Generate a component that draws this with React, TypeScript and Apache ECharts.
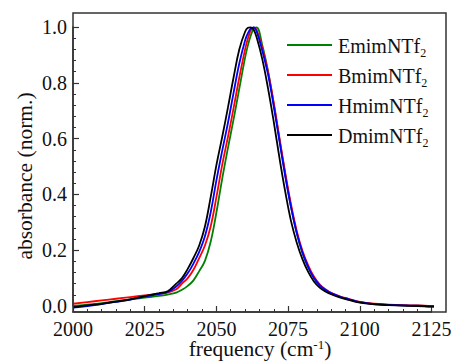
import React, { useEffect, useRef } from "react";
import * as echarts from "echarts";

const freq = [2000, 2005, 2010, 2015, 2020, 2025, 2030, 2033, 2036, 2038, 2040, 2042, 2044, 2046, 2048, 2050, 2052, 2054, 2056, 2058, 2060, 2061, 2062, 2063, 2064, 2066, 2068, 2070, 2072, 2074, 2076, 2078, 2080, 2082, 2084, 2086, 2088, 2090, 2093, 2096, 2100, 2105, 2110, 2115, 2120, 2125, 2130];

const emim = [0.0, 0.005, 0.01, 0.017, 0.024, 0.03, 0.036, 0.041, 0.048, 0.058, 0.072, 0.092, 0.125, 0.162, 0.23, 0.335, 0.455, 0.565, 0.67, 0.78, 0.89, 0.935, 0.97, 0.993, 0.999, 0.935, 0.842, 0.724, 0.597, 0.472, 0.357, 0.262, 0.19, 0.138, 0.1, 0.073, 0.056, 0.044, 0.033, 0.024, 0.014, 0.007, 0.004, 0.002, 0.001, -0.001, -0.002];

const bmim = [0.008, 0.014, 0.02, 0.026, 0.032, 0.038, 0.044, 0.048, 0.06, 0.08, 0.1, 0.13, 0.172, 0.217, 0.285, 0.39, 0.505, 0.605, 0.71, 0.82, 0.92, 0.96, 0.988, 0.999, 0.99, 0.925, 0.84, 0.728, 0.602, 0.478, 0.365, 0.27, 0.198, 0.146, 0.106, 0.078, 0.06, 0.047, 0.035, 0.026, 0.015, 0.008, 0.005, 0.003, 0.002, 0.0, -0.001];

const hmim = [-0.006, 0.0, 0.007, 0.015, 0.023, 0.034, 0.043, 0.05, 0.07, 0.09, 0.117, 0.152, 0.194, 0.25, 0.335, 0.45, 0.555, 0.655, 0.765, 0.87, 0.952, 0.978, 0.994, 0.999, 0.985, 0.915, 0.83, 0.715, 0.59, 0.465, 0.355, 0.262, 0.192, 0.14, 0.1, 0.075, 0.058, 0.046, 0.034, 0.025, 0.014, 0.007, 0.004, 0.002, 0.001, -0.001, -0.002];

const dmim = [-0.005, 0.002, 0.008, 0.016, 0.024, 0.035, 0.046, 0.053, 0.08, 0.1, 0.133, 0.172, 0.217, 0.285, 0.39, 0.505, 0.605, 0.71, 0.82, 0.92, 0.983, 0.997, 0.999, 0.99, 0.964, 0.885, 0.78, 0.66, 0.53, 0.41, 0.305, 0.228, 0.168, 0.122, 0.088, 0.066, 0.052, 0.042, 0.031, 0.022, 0.012, 0.006, 0.003, 0.001, 0.0, -0.002, -0.003];

const seriesNames = ["EmimNTf", "BmimNTf", "HmimNTf", "DmimNTf"];
const seriesValues = [emim, bmim, hmim, dmim];
const seriesColors = ["#008000", "#ff0000", "#0000ff", "#000000"];

const xTicks = [2000, 2025, 2050, 2075, 2100, 2125];
const yTicks = [0.0, 0.2, 0.4, 0.6, 0.8, 1.0];

const xTitle = "frequency (cm";
const yTitle = "absorbance (norm.)";

const FONT = "Liberation Serif";
const INK = "#111";

export default function App() {
  const ref = useRef<HTMLDivElement>(null);
  useEffect(() => {
    if (!ref.current) return;
    const chart = echarts.init(ref.current, null, { renderer: "svg" });
    const series = seriesNames.map((name, i) => ({
      name,
      type: "line",
      data: freq.map((f, j) => [f, seriesValues[i][j]]),
      showSymbol: false,
      smooth: 0.4,
      clip: false,
      lineStyle: { color: seriesColors[i], width: 1.8 },
      itemStyle: { color: seriesColors[i] },
    }));
    chart.setOption({
      animation: false,
      grid: { left: 73, top: 27, right: 21.5, bottom: 56 },
      xAxis: {
        type: "value",
        min: 2000,
        max: 2125,
        interval: 25,
        offset: 6,
        axisLine: { show: true, onZero: false, lineStyle: { color: "#333", width: 1.5 } },
        axisTick: { show: true, inside: true, length: 6, lineStyle: { color: "#333", width: 1.2 } },
        minorTick: { show: true, splitNumber: 5, length: 3, lineStyle: { color: "#333", width: 1 } },
        splitLine: { show: false },
        axisLabel: { show: false },
      },
      yAxis: {
        type: "value",
        min: 0,
        max: 1,
        interval: 0.2,
        axisLine: { show: true, lineStyle: { color: "#333", width: 1.5 } },
        axisTick: { show: true, inside: true, length: 6, lineStyle: { color: "#333", width: 1.2 } },
        minorTick: { show: true, splitNumber: 5, length: 3, lineStyle: { color: "#333", width: 1 } },
        splitLine: { show: false },
        axisLabel: { show: false },
      },
      series,
    });

    const graphics: any[] = [
      {
        type: "rect",
        silent: true,
        z: 10,
        shape: { x: 73, y: 13, width: 373, height: 299 },
        style: { fill: "none", stroke: "#333", lineWidth: 1.5 },
      },
      {
        type: "text",
        silent: true,
        x: 25,
        y: 176,
        rotation: Math.PI / 2,
        style: {
          text: yTitle,
          fontFamily: FONT,
          fontSize: 21.5,
          fill: INK,
          textAlign: "center",
          textVerticalAlign: "middle",
        },
      },
      {
        type: "text",
        silent: true,
        x: 260,
        y: 349,
        style: {
          text: xTitle + "{sup|-1}" + ")",
          fontFamily: FONT,
          fontSize: 21.5,
          fill: INK,
          lineHeight: 22,
          textAlign: "center",
          textVerticalAlign: "middle",
          rich: {
            sup: { fontFamily: FONT, fontSize: 13, lineHeight: 10, verticalAlign: "top", fill: INK },
          },
        },
      },
    ];

    xTicks.forEach((v) => {
      const px = chart.convertToPixel({ xAxisIndex: 0 }, v) as number;
      graphics.push({
        type: "text",
        silent: true,
        x: px,
        y: 328.5,
        style: {
          text: String(v),
          fontFamily: FONT,
          fontSize: 20,
          fill: INK,
          textAlign: "center",
          textVerticalAlign: "middle",
        },
      });
    });
    yTicks.forEach((v) => {
      const py = chart.convertToPixel({ yAxisIndex: 0 }, v) as number;
      graphics.push({
        type: "text",
        silent: true,
        x: 67,
        y: py,
        style: {
          text: v.toFixed(1),
          fontFamily: FONT,
          fontSize: 20,
          fill: INK,
          textAlign: "right",
          textVerticalAlign: "middle",
        },
      });
    });

    seriesNames.forEach((name, i) => {
      const cy = 45 + 30 * i;
      graphics.push({
        type: "line",
        silent: true,
        shape: { x1: 287, y1: cy, x2: 332, y2: cy },
        style: { stroke: seriesColors[i], lineWidth: 1.8 },
      });
      graphics.push({
        type: "text",
        silent: true,
        x: 338,
        y: cy + 1,
        style: {
          text: name + "{sub|2}",
          fontFamily: FONT,
          fontSize: 20,
          fill: INK,
          lineHeight: 26,
          textAlign: "left",
          textVerticalAlign: "middle",
          rich: {
            sub: { fontFamily: FONT, fontSize: 12, lineHeight: 12, verticalAlign: "bottom", fill: INK },
          },
        },
      });
    });

    chart.setOption({ graphic: graphics });
    return () => chart.dispose();
  }, []);
  return <div ref={ref} style={{ width: 453, height: 362, position: "absolute", left: 0, top: 0 }} />;
}
